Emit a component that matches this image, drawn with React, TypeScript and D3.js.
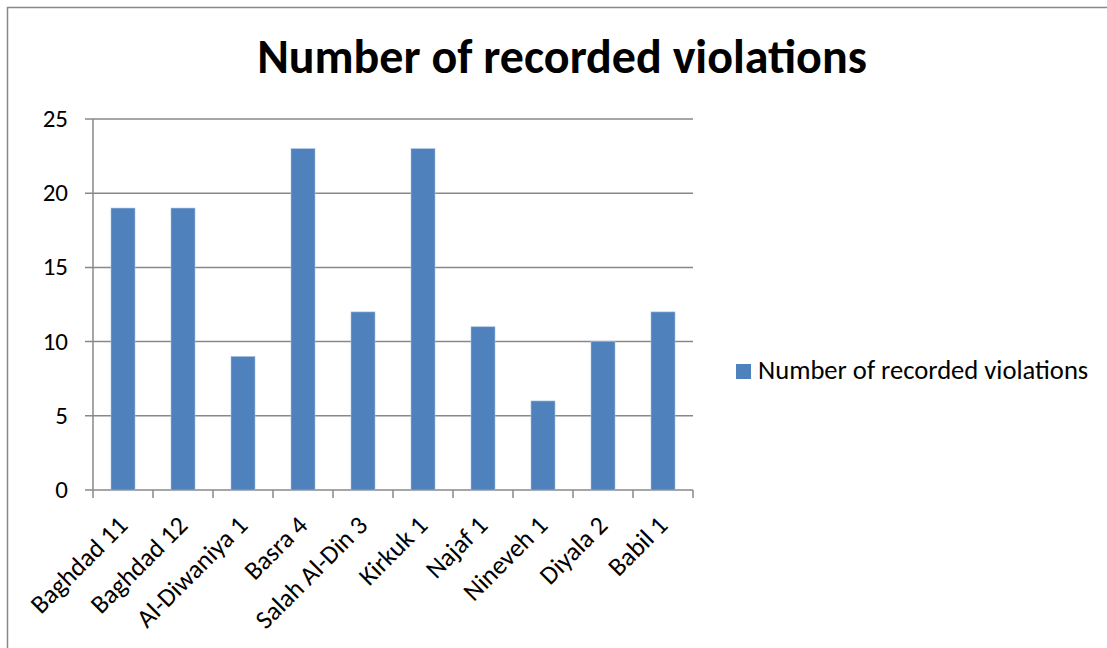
import React from "react";
import * as d3 from "d3";

const categories = ["Baghdad 11", "Baghdad 12", "Al-Diwaniya 1", "Basra 4", "Salah Al-Din 3", "Kirkuk 1", "Najaf 1", "Nineveh 1", "Diyala 2", "Babil 1"];
const values = [19, 19, 9, 23, 12, 23, 11, 6, 10, 12];
const yTicks = [0, 5, 10, 15, 20, 25];
const seriesName = "Number of recorded violations";
const title = "Number of recorded violations";

const W = 1107, H = 648;
const left = 93, right = 693, top = 119, bottom = 490;
const FONT = "Carlito, Calibri, 'Open Sans', 'Noto Sans', sans-serif";

export default function App() {
  const x = d3.scaleBand<string>().domain(categories).range([left, right]).paddingInner(0.6).paddingOuter(0.3);
  const y = d3.scaleLinear().domain([0, 25]).range([bottom, top]);
  const step = x.step();
  const grid = "#888888";
  return (
    <svg width={W} height={H} style={{ position: "absolute", left: 0, top: 0, background: "#fff" }}>
      <rect x={0} y={0} width={W} height={H} fill="#fff" />
      <rect x={7.5} y={7.5} width={W + 20} height={H + 20} fill="none" stroke={grid} strokeWidth={1.5} />
      <text x={562} y={72.5} textAnchor="middle" fontFamily={FONT} fontWeight="bold" fontSize={48} fill="#000">{title}</text>
      {yTicks.map((t) => (
        <g key={t}>
          <line x1={85} x2={right} y1={y(t)} y2={y(t)} stroke={grid} strokeWidth={1.5} />
          <text x={68} y={y(t) + 8} textAnchor="end" fontFamily={FONT} fontSize={25} fill="#000">{t}</text>
        </g>
      ))}
      <line x1={left} x2={left} y1={top} y2={bottom} stroke={grid} strokeWidth={1.5} />
      {d3.range(categories.length + 1).map((i) => (
        <line key={i} x1={left + i * step} x2={left + i * step} y1={bottom} y2={bottom + 8} stroke={grid} strokeWidth={1.5} />
      ))}
      {categories.map((c, i) => (
        <rect key={c} x={x(c)!} y={y(values[i])} width={x.bandwidth()} height={bottom - y(values[i])} fill="#4F81BD" stroke="#A7C0DE" strokeWidth={0.6} />
      ))}
      {categories.map((c) => {
        const cx = x(c)! + x.bandwidth() / 2 + 6;
        const cy = bottom + 37;
        return (
          <text key={c} x={cx} y={cy} textAnchor="end" transform={`rotate(-45 ${cx} ${cy})`} fontFamily={FONT} fontSize={26} fill="#000">{c}</text>
        );
      })}
      <rect x={736} y={364} width={15} height={15} fill="#4F81BD" />
      <text x={758} y={379} fontFamily={FONT} fontSize={26.6} fill="#000">{seriesName}</text>
    </svg>
  );
}
